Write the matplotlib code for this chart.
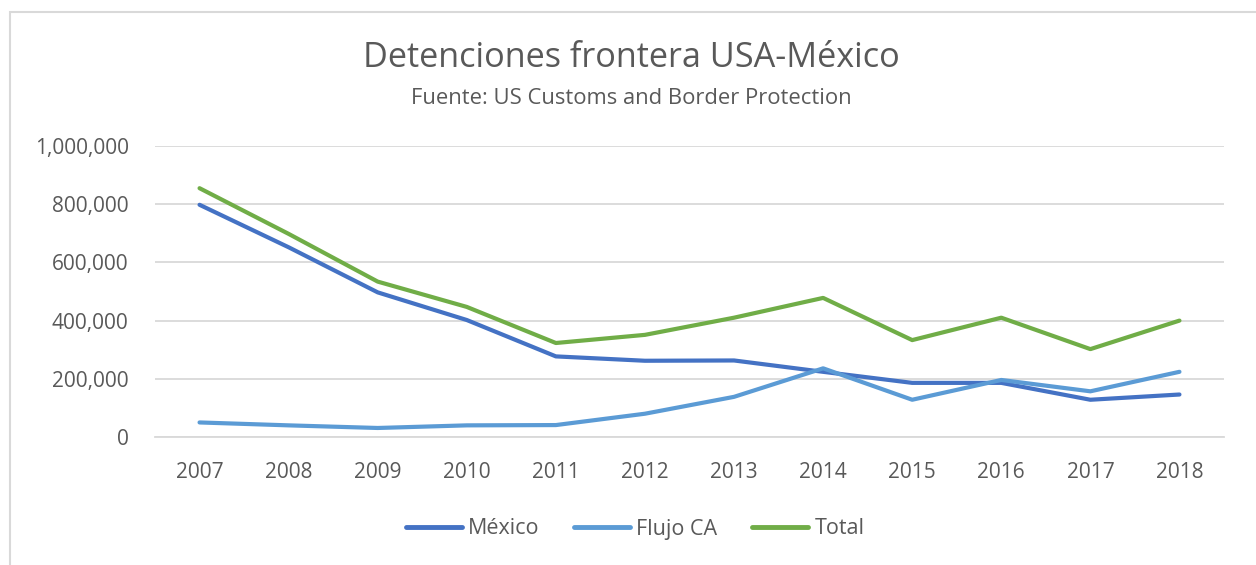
import matplotlib
matplotlib.use("Agg")
import matplotlib.pyplot as plt
from matplotlib.patches import Rectangle
from matplotlib.ticker import FuncFormatter

years = ["2007", "2008", "2009", "2010", "2011", "2012", "2013", "2014", "2015", "2016", "2017", "2018"]
mexico = [798000, 652000, 497000, 402000, 277000, 262000, 263000, 224000, 186000, 186000, 128000, 146000]
flujo_ca = [50000, 40000, 31000, 40000, 41000, 80000, 138000, 236000, 128000, 196000, 157000, 224000]
total = [855000, 698000, 534000, 447000, 323000, 351000, 410000, 478000, 333000, 410000, 302000, 400000]

FONT = ["Open Sans", "DejaVu Sans"]
plt.rcParams["font.family"] = FONT

W, H = 1256, 565
fig = plt.figure(figsize=(W / 100, H / 100), dpi=100)
fig.patches.append(Rectangle((10 / W, -0.1), 1.2, 1 - 12 / H + 0.1, transform=fig.transFigure,
                             fill=False, edgecolor="#d9d9d9", linewidth=1.5))

ax = fig.add_axes([155 / W, 1 - 437 / H, (1224 - 155) / W, (437 - 146) / H])
x = list(range(len(years)))
ax.plot(x, mexico, color="#4472C4", lw=3.0, label="México", solid_capstyle="round")
ax.plot(x, flujo_ca, color="#5B9BD5", lw=3.0, label="Flujo CA", solid_capstyle="round")
ax.plot(x, total, color="#70AD47", lw=3.0, label="Total", solid_capstyle="round")

ax.set_xlim(-0.5, len(years) - 0.5)
ax.set_ylim(0, 1000000)
ax.set_yticks(range(0, 1000001, 200000))
ax.yaxis.set_major_formatter(FuncFormatter(lambda v, p: f"{int(v):,}"))
ax.set_xticks(x)
ax.set_xticklabels(years)
ax.grid(axis="y", color="#d9d9d9", lw=1.3)
ax.set_axisbelow(True)
for s in ["top", "right", "left"]:
    ax.spines[s].set_visible(False)
ax.spines["bottom"].set_color("#d9d9d9")
ax.spines["bottom"].set_linewidth(1.3)
ax.tick_params(axis="both", length=0, labelsize=15, colors="#595959")
ax.tick_params(axis="x", pad=18)
ax.tick_params(axis="y", pad=19)

fig.text(631 / W, 1 - 58 / H, "Detenciones frontera USA-México", ha="center", va="center",
         fontsize=24.7, color="#595959")
fig.text(631 / W, 1 - 99 / H, "Fuente: US Customs and Border Protection", ha="center", va="center",
         fontsize=15.8, color="#595959")

leg = fig.legend(loc="center", bbox_to_anchor=(635 / W, 1 - 529 / H), ncol=3, frameon=False,
                 fontsize=15.5, handlelength=2.6, handletextpad=0.3, columnspacing=1.6)
for t in leg.get_texts():
    t.set_color("#595959")
for l in leg.get_lines():
    l.set_linewidth(3.5)

fig.savefig("out.png", dpi=100)
